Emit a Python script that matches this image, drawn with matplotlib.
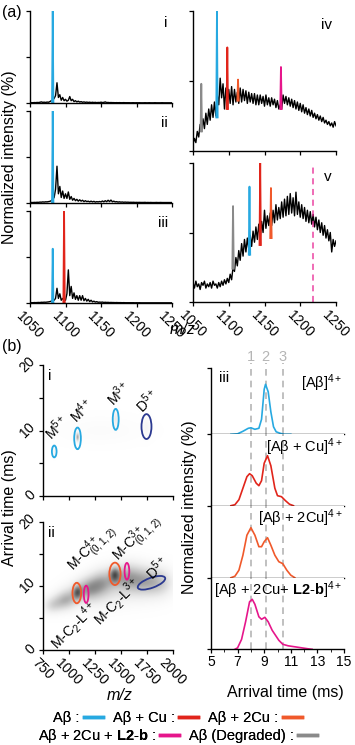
import numpy as np
import matplotlib.pyplot as plt
import matplotlib.transforms as mtransforms
from matplotlib.patches import Ellipse
from matplotlib.lines import Line2D

plt.rcParams['font.family'] = ['Liberation Sans', 'DejaVu Sans']
plt.rcParams['mathtext.fontset'] = 'custom'
plt.rcParams['mathtext.rm'] = 'Liberation Sans'
plt.rcParams['mathtext.it'] = 'Liberation Sans:italic'
plt.rcParams['mathtext.bf'] = 'Liberation Sans:bold'

# ---------------- data ----------------
# (a) mass spectra, sampled every 2 m/z from 1050 to 1250
mz = np.arange(1050, 1251, 2)
spec_i = [0.3, 0.4, 0.3, 0.5, 0.4, 0.6, 0.5, 0.8, 1.2, 0.7,
          0.9, 0.6, 1.0, 0.8, 1.5, 2.5, 3.0, 5.0, 8.0, 22,
          6, 9, 3, 6, 2.5, 4, 2, 3, 7, 2.5,
          4, 1.5, 2.5, 1.2, 2, 1, 1.5, 0.8, 1.2, 0.7,
          1, 0.6, 0.9, 0.5, 0.8, 0.5, 0.7, 0.4, 0.6, 0.5,
          0.9, 0.5, 0.7, 1.2, 0.5, 0.6, 0.4, 0.5, 0.4, 0.4,
          0.3, 0.4, 0.3, 0.4, 0.3, 0.3, 0.4, 0.3, 0.3, 0.3,
          0.3, 0.2, 0.3, 0.3, 0.2, 0.3, 0.2, 0.3, 0.2, 0.2,
          0.2, 0.3, 0.2, 0.2, 0.3, 0.2, 0.2, 0.2, 0.3, 0.2,
          0.2, 0.2, 0.2, 0.3, 0.2, 0.2, 0.2, 0.2, 0.2, 0.2, 0.2]
spec_ii = [0.5, 0.6, 0.5, 0.7, 0.6, 0.8, 0.7, 1.0, 0.9, 1.2,
           1.0, 1.3, 1.2, 1.5, 1.8, 2.5, 4, 6, 15, 40,
           10, 18, 6, 13, 5, 10, 5, 12, 4, 7,
           3, 5, 2.5, 4, 2, 3.5, 2, 3, 1.5, 2.5,
           1.5, 2, 1.2, 2, 1.2, 1.8, 1, 1.5, 1.2, 1.6,
           1.2, 2.2, 1.3, 2.5, 1.4, 3, 1.5, 3.2, 1.3, 2,
           1.2, 1.5, 1.0, 1.3, 0.9, 1.1, 0.8, 1.0, 0.8, 0.9,
           0.7, 0.8, 0.7, 0.8, 0.6, 0.7, 0.6, 0.7, 0.6, 0.6,
           0.6, 0.7, 0.5, 0.6, 0.5, 0.6, 0.5, 0.5, 0.5, 0.6,
           0.5, 0.5, 0.6, 0.5, 0.5, 0.5, 0.5, 0.5, 0.5, 0.5, 0.5]
spec_iii = [0.3, 0.4, 0.3, 0.5, 0.4, 0.5, 0.6, 0.5, 0.8, 0.7,
            0.9, 0.8, 1.0, 1.2, 1.5, 2, 3, 3, 5, 16,
            5, 10, 3, 5, 3, 3, 10, 36, 8, 18,
            5, 11, 4, 8, 3, 8, 3, 8, 2.5, 5,
            2, 4, 1.5, 3, 1.2, 2, 1, 1.5, 0.8, 1,
            0.8, 1, 0.6, 0.8, 0.6, 0.7, 0.5, 0.6, 0.5, 0.5,
            0.4, 0.5, 0.4, 0.4, 0.4, 0.3, 0.4, 0.3, 0.3, 0.3,
            0.3, 0.3, 0.3, 0.3, 0.2, 0.3, 0.2, 0.3, 0.2, 0.2,
            0.2, 0.2, 0.2, 0.2, 0.2, 0.2, 0.2, 0.2, 0.2, 0.2,
            0.2, 0.2, 0.2, 0.2, 0.2, 0.2, 0.2, 0.2, 0.2, 0.2, 0.2]
spec_iv = [5, 9, 6, 14, 10, 19, 14, 23, 16, 27,
           19, 30, 22, 33, 24, 35, 25, 40, 33, 52,
           38, 48, 30, 45, 32, 44, 34, 46, 33, 44,
           35, 42, 34, 45, 35, 44, 36, 43, 34, 42,
           35, 41, 34, 41, 33, 40, 33, 40, 34, 39,
           32, 40, 33, 38, 32, 38, 33, 37, 31, 36,
           30, 33, 30, 40, 34, 39, 33, 38, 32, 37,
           31, 36, 30, 35, 29, 34, 28, 33, 27, 31,
           26, 30, 25, 29, 24, 27, 23, 26, 22, 25,
           21, 24, 20, 22, 19, 21, 18, 20, 17, 21, 18]
spec_v = [14, 10, 15, 11, 13, 9, 14, 12, 15, 10,
          13, 11, 14, 10, 15, 12, 13, 10, 14, 11,
          15, 12, 16, 13, 17, 14, 20, 16, 25, 22,
          32, 26, 37, 30, 42, 33, 45, 36, 46, 38,
          48, 40, 51, 43, 54, 45, 56, 46, 58, 50,
          66, 53, 62, 55, 64, 55, 66, 57, 70, 59,
          68, 60, 72, 61, 74, 62, 76, 63, 78, 64,
          75, 62, 79, 63, 72, 61, 70, 60, 68, 58,
          66, 57, 65, 56, 63, 54, 61, 52, 59, 50,
          57, 48, 55, 46, 52, 44, 50, 36, 45, 40, 44]
mz_ticks = [1050, 1100, 1150, 1200, 1250]

# assigned peaks: species, m/z, base, top
peaks_i = [('Ab', 1082, 0, 100)]
peaks_ii = [('Ab', 1082, 0, 100)]
peaks_iii = [('Ab', 1082, 0, 59), ('AbCu', 1098, 0, 100)]
peaks_iv = [('deg', 1061.6, 14, 48), ('Ab', 1083.5, 24, 100), ('AbCu', 1098, 30, 74),
            ('Ab2Cu', 1113, 36, 51), ('AbL', 1173, 30, 60)]
peaks_v = [('deg', 1106, 24, 69), ('Ab', 1129, 34, 83), ('AbCu', 1144, 41, 100),
           ('Ab2Cu', 1159, 46, 82)]
mz_marker_v = 1218

# (b) ion mobility maps: blobs (m/z, arrival time, sd m/z, sd time, intensity)
blobs_i = [(858, 6.8, 12, 0.5, 0.10), (1082, 9.0, 10, 0.45, 0.45), (1449, 11.8, 15, 0.8, 0.15),
           (1745, 10.6, 25, 1.0, 0.08), (1300, 10.0, 300, 1.5, 0.03)]
blobs_ii = [(830, 6.9, 60, 0.9, 0.18), (920, 7.5, 70, 1.0, 0.22), (1000, 8.1, 70, 1.1, 0.25),
            (1080, 9.0, 28, 0.7, 0.40), (1150, 9.4, 80, 1.2, 0.26), (1250, 10.1, 80, 1.3, 0.24),
            (1350, 10.9, 80, 1.4, 0.24), (1440, 11.8, 32, 0.8, 0.45), (1530, 11.5, 80, 1.5, 0.26),
            (1650, 11.2, 90, 1.6, 0.23), (1780, 10.7, 90, 1.5, 0.23), (1900, 10.6, 80, 1.5, 0.18),
            (1250, 8.6, 170, 1.6, 0.12), (1600, 10.0, 220, 1.9, 0.12)]
map_mz_ticks = [750, 1000, 1250, 1500, 1750, 2000]
map_t_ticks = [0, 10, 20]
# circled features: species, m/z, time, width (m/z), height (ms)
circles_i = [('Ab', 858, 6.8, 45, 1.8), ('Ab', 1082, 8.8, 64, 3.3),
             ('Ab', 1449, 11.7, 57, 3.2), ('dimer', 1745, 10.6, 96, 3.8)]
circles_ii = [('Ab2Cu', 1075, 8.9, 83, 3.2), ('AbL', 1165, 8.7, 45, 2.7),
              ('Ab2Cu', 1442, 11.9, 108, 3.5), ('AbL', 1557, 12.3, 45, 2.6)]
dimer_ii = (1793, 10.5)
labels_i = [('M$^{5+}$', 885, 10.5), ('M$^{4+}$', 1125, 13.1),
            ('M$^{3+}$', 1481, 15.7), ('D$^{5+}$', 1750, 14.5)]
labels_ii = [('M-C$_{(0,1,2)}^{4+}$', 1228, 15.8), ('M-C$_{(0,1,2)}^{3+}$', 1654, 17.5),
             ('M-C$_2$-L$^{4+}$', 1048, 3.8), ('M-C$_2$-L$^{3+}$', 1461, 7.5),
             ('D$^{5+}$', 1846, 12.8)]

# (b) iii arrival time distributions
atd_ab_t = [6.5, 7.0, 7.4, 7.8, 8.0, 8.3, 8.6, 8.8, 9.0, 9.1, 9.3, 9.5, 9.7, 9.9, 10.2, 10.5, 11.0]
atd_ab = [0, 0.01, 0.06, 0.12, 0.13, 0.10, 0.12, 0.30, 0.90, 1.0, 0.85, 0.45, 0.15, 0.05, 0.02, 0, 0]
atd_cu_t = [6.5, 6.8, 7.1, 7.4, 7.7, 7.9, 8.1, 8.4, 8.6, 8.8, 9.0, 9.25, 9.5, 9.8, 10.0, 10.3, 10.6, 10.9, 11.2]
atd_cu = [0, 0.02, 0.12, 0.35, 0.58, 0.64, 0.60, 0.45, 0.40, 0.50, 0.85, 1.0, 0.80, 0.35, 0.20, 0.18, 0.10, 0.03, 0]
atd_2cu_t = [6.5, 6.8, 7.1, 7.4, 7.7, 8.0, 8.3, 8.6, 8.8, 9.0, 9.25, 9.5, 9.8, 10.1, 10.4, 10.7, 11.0, 11.3]
atd_2cu = [0, 0.03, 0.15, 0.45, 0.85, 1.0, 0.85, 0.62, 0.62, 0.72, 0.80, 0.65, 0.45, 0.32, 0.28, 0.15, 0.05, 0]
atd_l_t = [6.8, 7.0, 7.3, 7.6, 7.9, 8.1, 8.3, 8.6, 8.8, 9.05, 9.3, 9.6, 9.8, 10.1, 10.4, 10.8, 11.3, 11.8, 12.3, 12.6]
atd_l = [0, 0.03, 0.20, 0.55, 0.95, 1.0, 0.90, 0.65, 0.60, 0.64, 0.55, 0.38, 0.30, 0.18, 0.10, 0.07, 0.05, 0.03, 0.01, 0]
conformers = [8.0, 9.1, 10.4]
conformer_names = ['1', '2', '3']

colors = {'Ab': '#27a9e1', 'AbCu': '#e1251b', 'Ab2Cu': '#f0592b',
          'AbL': '#e6168b', 'deg': '#8a8a8a', 'dimer': '#2b3990'}

# ---------------- figure ----------------
W, H = 355, 745
fig = plt.figure(figsize=(W / 100, H / 100), dpi=100)


def add_ax(l, t, r, b):
    return fig.add_axes([l / W, 1 - b / H, (r - l) / W, (b - t) / H])


def style(ax):
    for s in ['top', 'right']:
        ax.spines[s].set_visible(False)
    for s in ['left', 'bottom']:
        ax.spines[s].set_linewidth(1.0)
    ax.tick_params(direction='out', length=3, width=0.9, labelsize=10, pad=1)


def slanted_xlabels(ax, ticks):
    # tick labels drawn by hand, slanted down to the right
    tr = mtransforms.offset_copy(ax.get_xaxis_transform(), fig=fig, x=0, y=-5, units='dots')
    for v in ticks:
        ax.text(v, 0, f'${v}$', transform=tr, rotation=-45, ha='center', va='top',
                fontsize=10, clip_on=False)


def slanted_ylabels(ax, ticks):
    tr = mtransforms.offset_copy(ax.get_yaxis_transform(), fig=fig, x=-4, y=0, units='dots')
    for v in ticks:
        ax.text(0, v, f'${v}$', transform=tr, rotation=45, ha='right', va='center',
                fontsize=10, clip_on=False)


def spectrum(ax, trace, peaks, roman, show_labels):
    ax.plot(mz, trace, color='k', lw=1.0)
    for sp, c, base, top in peaks:
        ax.plot([c - 1, c, c + 1], [base, top, base], color=colors[sp], lw=1.3)
    ax.set_xlim(1050, 1250)
    ax.set_ylim(0, 100)
    ax.set_yticks([0, 50, 100])
    ax.set_yticklabels([])
    ax.set_xticks(mz_ticks)
    ax.set_xticklabels([])
    style(ax)
    if show_labels:
        slanted_xlabels(ax, mz_ticks)
    ax.text(0.97, 0.95, roman, transform=ax.transAxes, ha='right', va='top', fontsize=11)


ax1 = add_ax(30, 11, 172, 103)
spectrum(ax1, spec_i, peaks_i, 'i', False)
ax2 = add_ax(30, 111, 172, 203)
spectrum(ax2, spec_ii, peaks_ii, 'ii', False)
ax3 = add_ax(30, 211, 172, 303)
spectrum(ax3, spec_iii, peaks_iii, 'iii', True)
ax4 = add_ax(193, 11, 336, 151)
spectrum(ax4, spec_iv, peaks_iv, 'iv', False)
ax5 = add_ax(193, 163, 336, 302)
spectrum(ax5, spec_v, peaks_v, 'v', True)
ax5.axvline(mz_marker_v, color='#e6168b', lw=1.1, ls=(0, (4, 3)), alpha=0.8)

fig.text(2 / W, 1 - 12 / H, '(a)', fontsize=11.5, va='center')
fig.text(10 / W, 1 - 157 / H, 'Normalized intensity (%)', rotation=90, fontsize=11.5,
         ha='center', va='center')
fig.text(183 / W, 1 - 329 / H, 'm/z', fontsize=11.5, style='italic', ha='center', va='center')

# ---------------- (b) maps ----------------
fig.text(2 / W, 1 - 346 / H, '(b)', fontsize=11.5, va='center')
gx = np.linspace(750, 2000, 400)
gy = np.linspace(0, 20, 300)
GX, GY = np.meshgrid(gx, gy)


def density(blobs):
    img = np.zeros_like(GX)
    for cx, cy, sx, sy, a in blobs:
        img += a * np.exp(-0.5 * ((GX - cx) / sx) ** 2 - 0.5 * ((GY - cy) / sy) ** 2)
    return img


def imap(ax, blobs, circles, labels, roman, show_labels):
    ax.imshow(density(blobs), extent=[750, 2000, 0, 20], origin='lower', aspect='auto',
              cmap='Greys', vmin=0, vmax=1, interpolation='bilinear')
    for sp, cx, cy, w, h in circles:
        ax.add_patch(Ellipse((cx, cy), w, h, fill=False, ec=colors[sp], lw=1.3))
    for txt, x, y in labels:
        ax.text(x, y, txt, rotation=45, ha='center', va='center', fontsize=10, clip_on=False)
    ax.set_xlim(750, 2000)
    ax.set_ylim(0, 20)
    ax.set_yticks([0, 5, 10, 15, 20])
    ax.set_yticklabels([])
    ax.set_xticks(map_mz_ticks)
    ax.set_xticklabels([])
    style(ax)
    slanted_ylabels(ax, map_t_ticks)
    if show_labels:
        slanted_xlabels(ax, map_mz_ticks)
    ax.text(0.04, 0.97, roman, transform=ax.transAxes, ha='left', va='top', fontsize=11)


axm1 = add_ax(43, 365, 173, 496)
imap(axm1, blobs_i, circles_i, labels_i, 'i', False)
axm2 = add_ax(43, 522, 173, 650)
imap(axm2, blobs_ii, circles_ii, labels_ii, 'ii', True)
tr = fig.dpi_scale_trans + mtransforms.ScaledTranslation(dimer_ii[0], dimer_ii[1], axm2.transData)
axm2.add_patch(Ellipse((0, 0), 0.29, 0.10, angle=20, fill=False, ec=colors['dimer'], lw=1.3,
                       transform=tr))

fig.text(10 / W, 1 - 508 / H, 'Arrival time (ms)', rotation=90, fontsize=11.5,
         ha='center', va='center')
fig.text(120 / W, 1 - 695 / H, 'm/z', fontsize=11.5, style='italic', ha='center', va='center')

# ---------------- (b) iii ATDs ----------------
bounds = [(368, 434.3), (434.3, 505.7), (505.7, 577.7), (577.7, 649.3)]
atds = [(atd_ab_t, atd_ab, 'Ab', '[Aβ]$^{4+}$'),
        (atd_cu_t, atd_cu, 'AbCu', '[Aβ + Cu]$^{4+}$'),
        (atd_2cu_t, atd_2cu, 'Ab2Cu', '[Aβ + 2Cu]$^{4+}$'),
        (atd_l_t, atd_l, 'AbL', '[Aβ + 2Cu+ $\\mathbf{L2}$-$\\mathbf{b}$]$^{4+}$')]
for k, ((t, b), (xt, yv, sp, title)) in enumerate(zip(bounds, atds)):
    ax = add_ax(211, t, 344, b)
    top = (b - t) / 50.0
    for c in conformers:
        ax.axvline(c, color='#b5b5b5', lw=1.2, ls=(0, (4, 3)),
                   ymax=1.0 if k else 1.08, clip_on=False)
    ax.plot(xt, yv, color=colors[sp], lw=1.2)
    ax.set_xlim(5, 15)
    ax.set_ylim(0, top)
    style(ax)
    if k == 0:
        ax.set_yticks([0, top])
        for c, n in zip(conformers, conformer_names):
            ax.text(c, top * 1.17, n, color='#b5b5b5', fontsize=10.5, ha='center', va='center')
        ax.text(0.06, 0.95, 'iii', transform=ax.transAxes, ha='left', va='top', fontsize=11)
    else:
        ax.set_yticks([0])
    ax.set_yticklabels([])
    ax.set_xticks([5, 7, 9, 11, 13, 15])
    ax.set_xticks(range(5, 16), minor=True)
    if k == 3:
        ax.tick_params(axis='x', which='minor', direction='out', length=2)
    else:
        ax.tick_params(axis='x', which='both', length=0, labelbottom=False)
    ax.text(0.99, 0.93 if k == 0 else 0.97, title, transform=ax.transAxes,
            ha='right', va='top', fontsize=10.5)

fig.text(190 / W, 1 - 507 / H, 'Normalized intensity (%)', rotation=90, fontsize=11.5,
         ha='center', va='center')
fig.text(285 / W, 1 - 693 / H, 'Arrival time (ms)', fontsize=11.5, ha='center', va='center')

# ---------------- legend ----------------
row1 = [('Aβ :', 'Ab'), ('Aβ + Cu :', 'AbCu'), ('Aβ + 2Cu :', 'Ab2Cu')]
row2 = [('Aβ + 2Cu + $\\mathbf{L2}$-$\\mathbf{b}$ :', 'AbL'), ('Aβ (Degraded) :', 'deg')]
for row, yp in [(row1, 718), (row2, 736)]:
    handles = [Line2D([], [], color=colors[sp], lw=2.5) for _, sp in row]
    leg = fig.legend(handles, [lab for lab, _ in row], loc='center',
                     bbox_to_anchor=(0.5, 1 - yp / H), ncol=len(row), frameon=False,
                     markerfirst=False, handlelength=1.3, handletextpad=0.3,
                     columnspacing=0.7, fontsize=10.5, borderpad=0, borderaxespad=0)
    fig.add_artist(leg)

fig.savefig('out.png', dpi=100)
